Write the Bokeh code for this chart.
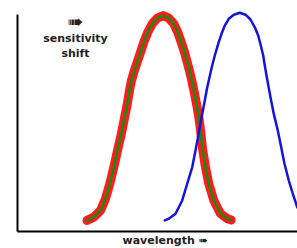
from bokeh.plotting import figure
from bokeh.models import Range1d, FixedTicker, Title
from bokeh.core.properties import value
from bokeh.embed import file_html
from bokeh.resources import INLINE

# Sensitivity curves (wavelength in arbitrary units, relative sensitivity 0..1)
shifted_w = [69.5, 76.3, 83.0, 88.0, 92.3, 96.3, 100.0, 103.5, 106.5, 109.5, 112.0,
             114.0, 116.3, 119.7, 123.0, 126.3, 130.3, 134.7, 139.7, 145.7, 151.3,
             156.3, 160.3, 163.7, 167.0, 169.7, 172.3, 174.5, 177.0, 179.5, 181.5,
             183.3, 185.0, 188.0, 191.3, 196.3, 203.0, 209.7, 213.7]
shifted_s = [0.051, 0.066, 0.097, 0.151, 0.220, 0.296, 0.373, 0.442, 0.512, 0.581, 0.650,
             0.696, 0.734, 0.780, 0.826, 0.872, 0.918, 0.957, 0.983, 0.995, 0.983,
             0.957, 0.918, 0.872, 0.826, 0.780, 0.734, 0.691, 0.636, 0.576, 0.521,
             0.456, 0.382, 0.296, 0.220, 0.143, 0.082, 0.059, 0.053]

normal_w = [147.3, 151.3, 158.0, 164.7, 169.7, 174.7, 178.0, 180.5, 182.7, 185.0, 187.3,
            189.5, 192.0, 194.7, 197.3, 200.7, 204.0, 207.3, 211.3, 216.3, 222.3,
            228.0, 233.0, 237.3, 240.7, 243.3, 245.7, 247.3, 249.3, 253.0, 256.3,
            260.3, 263.7, 267.0, 271.3, 275.3, 279.7, 285.0, 290.0, 295.0]
normal_s = [0.051, 0.059, 0.082, 0.143, 0.220, 0.296, 0.373, 0.433, 0.493, 0.548, 0.604,
            0.659, 0.711, 0.765, 0.811, 0.865, 0.911, 0.949, 0.980, 0.999, 1.008,
            0.999, 0.977, 0.941, 0.903, 0.857, 0.811, 0.765, 0.711, 0.619, 0.542,
            0.465, 0.388, 0.312, 0.235, 0.174, 0.112, 0.078, 0.055, 0.051]

x_label = "wavelength \u27a0"
note_lines = ["\u27a0", "sensitivity", "shift"]

p = figure(width=297, height=248, output_backend="svg", toolbar_location=None,
           x_range=Range1d(0, 280), y_range=Range1d(0, 1.0645),
           min_border_left=17, min_border_right=0, min_border_top=0, min_border_bottom=17)
p.outline_line_color = None
p.xgrid.visible = False
p.ygrid.visible = False
p.background_fill_color = "white"
p.border_fill_color = "white"

for ax in (p.xaxis[0], p.yaxis[0]):
    ax.ticker = FixedTicker(ticks=[])
    ax.major_tick_out = 0
    ax.major_tick_in = 0
    ax.minor_tick_out = 0
    ax.minor_tick_in = 0
    ax.major_label_standoff = 0
    ax.major_label_text_font_size = "0px"
    ax.axis_line_width = 2
    ax.axis_line_color = "black"

p.yaxis[0].bounds = (0, 1.0)

p.add_layout(Title(text=x_label, align="left", offset=105, standoff=1,
                   text_font="DejaVu Sans", text_font_style="bold",
                   text_font_size="11px", text_color="#222222"), "below")

# shifted (red/green) curve
p.line(shifted_w, shifted_s, line_color="#ff1010", line_width=9, line_cap="round",
       line_join="round", line_alpha=0.95)
p.line(shifted_w, shifted_s, line_color="#128f12", line_width=2.5, line_cap="round",
       line_join="round")
# normal (blue) curve
p.line(normal_w, normal_s, line_color="#1414dd", line_width=2.5, line_cap="round",
       line_join="round")

# annotation text
p.text(x=[58], y=[0.972], text=[note_lines[0]], text_align="center", text_baseline="middle",
       text_font=value("DejaVu Sans"), text_font_style="bold", text_font_size="19px",
       text_color="#222222")
p.text(x=[58, 58], y=[0.889, 0.820], text=note_lines[1:], text_align="center",
       text_baseline="middle", text_font=value("DejaVu Sans"), text_font_style="bold",
       text_font_size="11px", text_color="#222222")

open("out.html", "w").write(file_html(p, INLINE))
